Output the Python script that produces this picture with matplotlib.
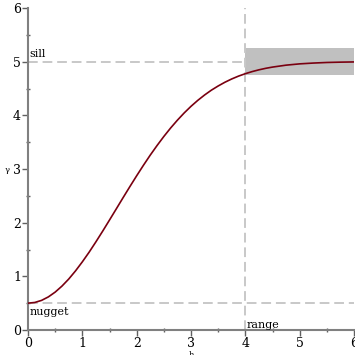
import matplotlib
matplotlib.use("Agg")
import matplotlib.pyplot as plt
from matplotlib.patches import Rectangle
from matplotlib.ticker import MultipleLocator

# semivariogram values
h = [0, 0.125, 0.25, 0.375, 0.5, 0.625, 0.75, 0.875, 1.0, 1.125, 1.25, 1.375,
     1.5, 1.625, 1.75, 1.875, 2.0, 2.125, 2.25, 2.375, 2.5, 2.625, 2.75, 2.875,
     3.0, 3.125, 3.25, 3.375, 3.5, 3.625, 3.75, 3.875, 4.0, 4.125, 4.25, 4.375,
     4.5, 4.75, 5.0, 5.25, 5.5, 5.75, 6.0]
gamma = [0.5, 0.513, 0.552, 0.617, 0.706, 0.818, 0.95, 1.102, 1.27, 1.45,
         1.643, 1.843, 2.049, 2.257, 2.466, 2.672, 2.874, 3.07, 3.259, 3.437,
         3.606, 3.764, 3.91, 4.045, 4.168, 4.279, 4.379, 4.469, 4.547, 4.617,
         4.678, 4.731, 4.776, 4.815, 4.848, 4.876, 4.899, 4.935, 4.959, 4.974,
         4.985, 4.991, 4.995]

nugget = 0.5
sill = 5.0
rng = 4.0
band = (4.75, 5.25)

plt.rcParams['font.family'] = ['DejaVu Serif']

fig = plt.figure(figsize=(3.55, 3.55), dpi=100)
ax = fig.add_axes([28/355, 25/355, 326/355, 322/355])

grey = '#c8c8c8'
ax.add_patch(Rectangle((rng, band[0]), 6 - rng, band[1] - band[0],
                       facecolor='#c0c0c0', edgecolor='none', zorder=1))
ax.plot([0, rng], [sill, sill], color=grey, lw=1.4, dashes=(5, 2.5), zorder=2)
ax.plot([0, 6], [nugget, nugget], color=grey, lw=1.4, dashes=(5, 2.5), zorder=2)
ax.plot([rng, rng], [0, 6], color=grey, lw=1.4, dashes=(5, 2.5), zorder=2)

ax.plot(h, gamma, color='#7a0010', lw=1.2, zorder=3)

ax.text(0.02, sill + 0.05, 'sill', fontsize=8, va='bottom', ha='left')
ax.text(0.02, nugget - 0.08, 'nugget', fontsize=8, va='top', ha='left')
ax.text(rng + 0.02, 0.0, 'range', fontsize=8, va='bottom', ha='left')

ax.set_xlim(0, 6)
ax.set_ylim(0, 6)
ax.xaxis.set_major_locator(MultipleLocator(1))
ax.yaxis.set_major_locator(MultipleLocator(1))
ax.xaxis.set_minor_locator(MultipleLocator(0.5))
ax.yaxis.set_minor_locator(MultipleLocator(0.5))

for s in ['top', 'right']:
    ax.spines[s].set_visible(False)
for s in ['left', 'bottom']:
    ax.spines[s].set_color('#808080')
    ax.spines[s].set_linewidth(1.5)
ax.tick_params(which='major', direction='out', length=4, width=1, color='#606060',
               labelsize=9, pad=1)
ax.tick_params(which='minor', direction='inout', length=3, width=1, color='#606060')

fig.text(0.014, 0.52, 'γ', fontsize=6, ha='left', va='center')
fig.text(0.538, 0.0, 'h', fontsize=6, ha='center', va='center')

fig.savefig('out.png', dpi=100)
